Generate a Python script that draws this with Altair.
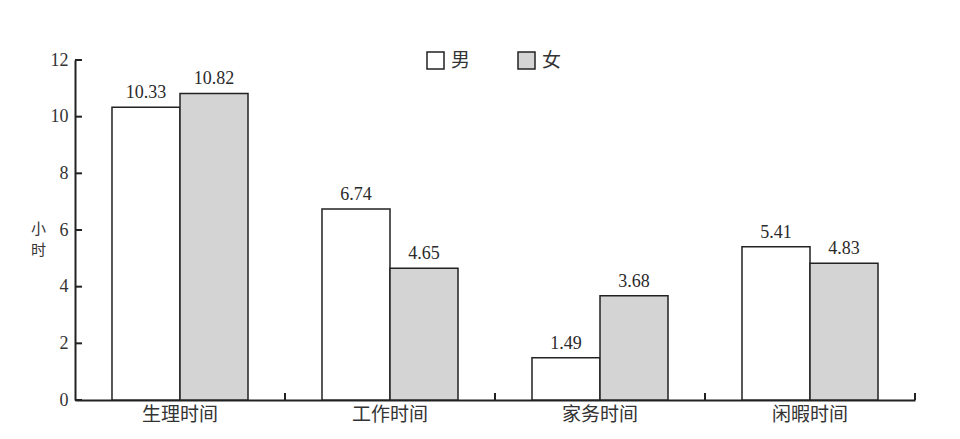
import altair as alt
import pandas as pd

categories = ["生理时间", "工作时间", "家务时间", "闲暇时间"]
sexes = ["男", "女"]
male = [10.33, 6.74, 1.49, 5.41]
female = [10.82, 4.65, 3.68, 4.83]
y_ticks = [0, 2, 4, 6, 8, 10, 12]

rows = []
for c, m, f in zip(categories, male, female):
    rows.append({"category": c, "sex": "男", "value": m})
    rows.append({"category": c, "sex": "女", "value": f})
df = pd.DataFrame(rows)
cat_df = pd.DataFrame({"category": categories})
tick_df = pd.DataFrame({"value": y_ticks})

INK = "#222222"
SERIF = "Liberation Serif"
CJK = "Noto Sans CJK SC"

x_axis = alt.Axis(
    title=None, labelAngle=0, ticks=False, domain=True,
    domainColor=INK, domainWidth=2,
    labelFont=CJK, labelFontSize=19, labelColor="#333333",
    labelPadding=5,
)
x_scale = alt.Scale(paddingInner=0, paddingOuter=0)
y_axis = alt.Axis(
    values=y_ticks, ticks=False, grid=False, domain=True,
    domainColor=INK, domainWidth=2,
    labelFont=SERIF, labelFontSize=18, labelColor="#333333",
    labelPadding=7,
    title=["小", "时"], titleAngle=0, titleFont=CJK, titleFontSize=15,
    titleFontWeight="normal", titleColor="#333333",
    titleX=-37, titleY=168, titleAlign="center", titleBaseline="middle",
    titleLineHeight=21,
)
y_scale = alt.Scale(domain=[0, 12], nice=False)

x_enc = alt.X("category:N", sort=categories, scale=x_scale, axis=x_axis)
xoff = alt.XOffset(
    "sex:N", sort=sexes,
    scale=alt.Scale(paddingOuter=0.544, paddingInner=0),
)
y_enc = alt.Y("value:Q", scale=y_scale, axis=y_axis)

bars = alt.Chart(df).mark_bar(stroke=INK, strokeWidth=1.5).encode(
    x=x_enc,
    xOffset=xoff,
    y=y_enc,
    color=alt.Color(
        "sex:N", sort=sexes,
        scale=alt.Scale(domain=sexes, range=["#ffffff", "#d4d4d4"]),
        legend=alt.Legend(
            title=None, orient="none", legendX=351, legendY=-9,
            direction="horizontal", symbolType="square", symbolSize=289,
            symbolStrokeColor=INK, symbolStrokeWidth=1.5,
            labelFont=CJK, labelFontSize=19, labelColor="#333333",
            labelOffset=6, columnPadding=44, padding=0,
        ),
    ),
)

labels = alt.Chart(df).mark_text(
    baseline="bottom", dy=-5, font=SERIF, fontSize=18, color="#2a2a2a"
).encode(
    x=x_enc,
    xOffset=xoff,
    y=y_enc,
    text=alt.Text("value:Q", format=".2f"),
)

x_ticks = alt.Chart(cat_df).mark_rule(color=INK, strokeWidth=2).encode(
    x=alt.X("category:N", sort=categories, scale=x_scale, axis=x_axis,
            bandPosition=1),
    y=alt.datum(0, scale=y_scale, axis=y_axis),
    y2=alt.datum(0.25),
)

y_tick_marks = alt.Chart(tick_df).mark_rule(color=INK, strokeWidth=2).encode(
    y=y_enc,
    x=alt.value(0),
    x2=alt.value(7),
)

chart = alt.layer(bars, labels, x_ticks, y_tick_marks).properties(
    width=840,
    height=340,
    autosize=alt.AutoSizeParams(type="none"),
    padding={"left": 67, "top": 52, "right": 37, "bottom": 31},
).configure(background="white").configure_view(stroke=None)

chart.save("out.html", embed_options={"renderer": "svg", "actions": False})
